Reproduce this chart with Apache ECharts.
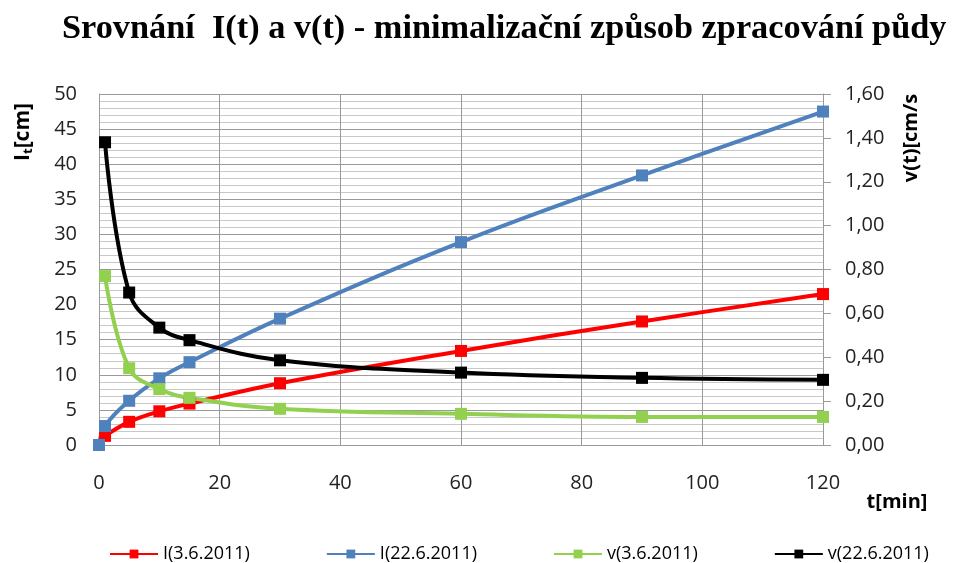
<!DOCTYPE html>
<html lang="cs">
<head>
<meta charset="UTF-8">
<title>Srovnání I(t) a v(t)</title>
<script src="https://cdn.jsdelivr.net/npm/echarts@6/dist/echarts.min.js"></script>
<style>
  html, body { margin: 0; padding: 0; background: #fff; }
</style>
</head>
<body>
<div id="main" style="width: 956px; height: 563px"></div>
<script>
// casy mereni [min]
var tRed = [1, 5, 10, 15, 30, 60, 90, 120];
var tBlue = [0, 1, 5, 10, 15, 30, 60, 90, 120];
var tGreen = [1, 5, 10, 15, 30, 60, 90, 120];
var tBlack = [1, 5, 10, 15, 30, 60, 90, 120];

// kumulativni infiltrace I(t) [cm]
var iJun3 = [1.3, 3.3, 4.8, 5.9, 8.8, 13.4, 17.6, 21.5];
var iJun22 = [0, 2.7, 6.3, 9.5, 11.8, 18.0, 28.9, 38.4, 47.5];

// rychlost infiltrace v(t) [cm/s]
var vJun3 = [0.77, 0.35, 0.255, 0.215, 0.165, 0.142, 0.128, 0.128];
var vJun22 = [1.38, 0.695, 0.535, 0.478, 0.386, 0.33, 0.306, 0.297];

var seriesNames = ['I(3.6.2011)', 'I(22.6.2011)', 'v(3.6.2011)', 'v(22.6.2011)'];

function pairs(t, v) {
  return t.map(function (x, i) { return [x, v[i]]; });
}

var labelFont = 'Open Sans';
var gridGray = '#9a9a9a';
var minorGray = '#c8c8c8';

function lineSeries(name, data, color, axis) {
  return {
    name: name,
    type: 'line',
    yAxisIndex: axis,
    data: data,
    smooth: 0.4,
    symbol: 'rect',
    symbolSize: 12,
    clip: false,
    z: 5,
    lineStyle: { color: color, width: 4 },
    itemStyle: { color: color }
  };
}

var option = {
  backgroundColor: '#fff',
  animation: false,
  title: {
    text: 'Srovnání  I(t) a v(t) - minimalizační způsob zpracování půdy',
    left: 57,
    top: 7,
    textStyle: {
      fontFamily: 'Liberation Serif',
      fontWeight: 'bold',
      fontSize: 34.3,
      color: '#000'
    }
  },
  legend: {
    data: seriesNames,
    left: 104,
    top: 540,
    itemWidth: 48,
    itemHeight: 11,
    itemGap: 76,
    textStyle: { fontFamily: labelFont, fontSize: 18, color: '#000' }
  },
  grid: { left: 99, right: 133, top: 94, bottom: 118, containLabel: false },
  xAxis: {
    type: 'value',
    min: 0,
    max: 120,
    interval: 20,
    axisLine: { show: true, lineStyle: { color: gridGray } },
    axisTick: { show: false },
    axisLabel: { margin: 28, fontFamily: labelFont, fontSize: 20, color: '#222' },
    splitLine: { show: true, lineStyle: { color: gridGray } }
  },
  yAxis: [
    {
      type: 'value',
      min: 0,
      max: 50,
      interval: 5,
      axisLine: { show: true, lineStyle: { color: gridGray } },
      axisTick: { show: false },
      axisLabel: { margin: 22, fontFamily: labelFont, fontSize: 20, color: '#222' },
      splitLine: { show: true, lineStyle: { color: gridGray } },
      minorTick: { show: true, splitNumber: 5, length: 0 },
      minorSplitLine: { show: true, lineStyle: { color: minorGray, width: 1 } }
    },
    {
      type: 'value',
      min: 0,
      max: 1.6,
      interval: 0.2,
      position: 'right',
      axisLine: { show: true, lineStyle: { color: gridGray } },
      axisTick: { show: true, inside: false, length: 8, lineStyle: { color: gridGray } },
      axisLabel: {
        margin: 22,
        fontFamily: labelFont,
        fontSize: 20,
        color: '#222',
        formatter: function (v) { return v.toFixed(2).replace('.', ','); }
      },
      splitLine: { show: false }
    }
  ],
  graphic: [
    {
      type: 'text',
      x: 23,
      y: 132,
      rotation: Math.PI / 2,
      style: {
        text: '{a|I}{s|t}{a|[cm]}',
        textAlign: 'center',
        textVerticalAlign: 'middle',
        rich: {
          a: { fontFamily: labelFont, fontWeight: 'bold', fontSize: 21, fill: '#000' },
          s: { fontFamily: labelFont, fontWeight: 'bold', fontSize: 13, fill: '#000', padding: [11, 0, 0, 0] }
        }
      }
    },
    {
      type: 'text',
      x: 911,
      y: 138,
      rotation: Math.PI / 2,
      style: {
        text: 'v(t)[cm/s',
        textAlign: 'center',
        textVerticalAlign: 'middle',
        fontFamily: labelFont,
        fontWeight: 'bold',
        fontSize: 20,
        fill: '#000'
      }
    },
    {
      type: 'text',
      x: 897,
      y: 502,
      style: {
        text: 't[min]',
        textAlign: 'center',
        textVerticalAlign: 'middle',
        fontFamily: labelFont,
        fontWeight: 'bold',
        fontSize: 20,
        fill: '#000'
      }
    }
  ],
  series: [
    lineSeries(seriesNames[0], pairs(tRed, iJun3), '#ff0000', 0),
    lineSeries(seriesNames[1], pairs(tBlue, iJun22), '#4f81bd', 0),
    lineSeries(seriesNames[2], pairs(tGreen, vJun3), '#92d050', 1),
    lineSeries(seriesNames[3], pairs(tBlack, vJun22), '#000000', 1)
  ]
};

var myChart = echarts.init(document.getElementById('main'));
myChart.setOption(option);
</script>
</body>
</html>
